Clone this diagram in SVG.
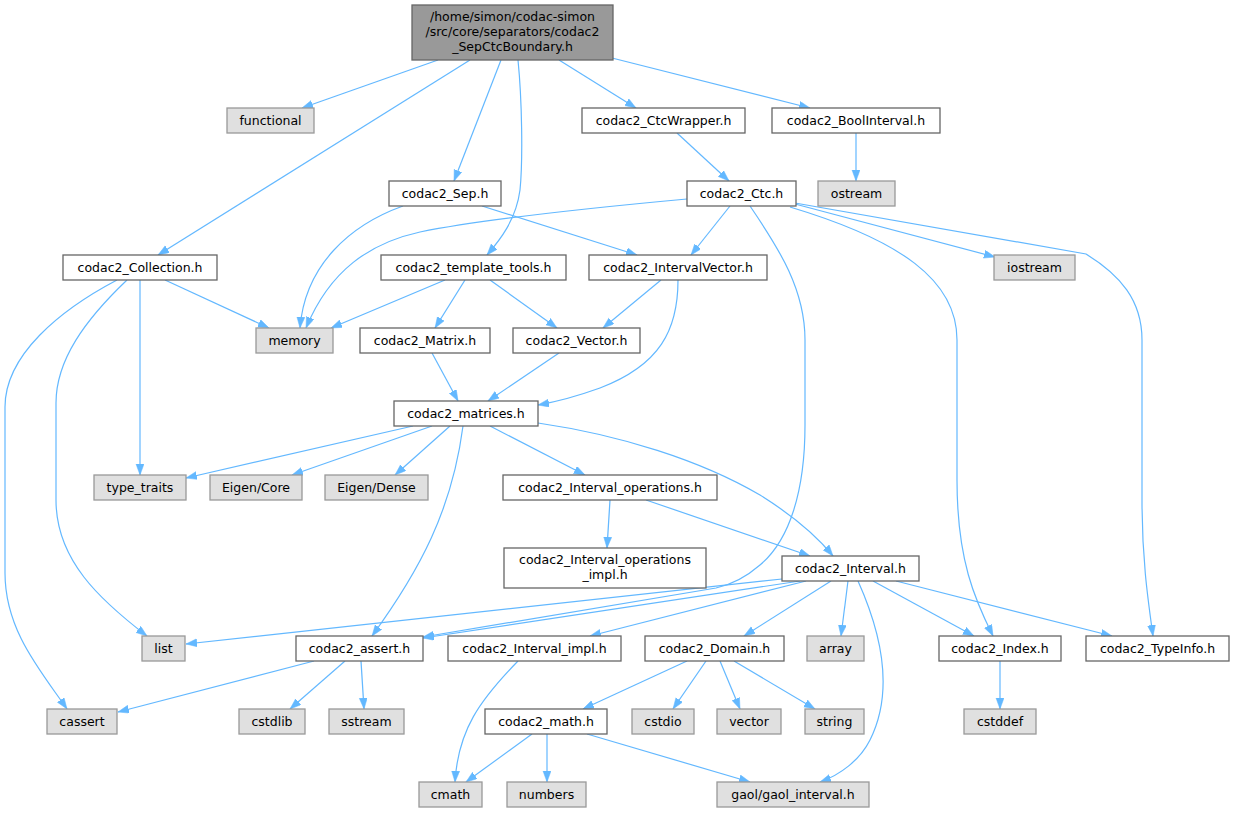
<svg xmlns="http://www.w3.org/2000/svg" width="1234" height="813" viewBox="0 0 1234 813">
<style>
.n rect{fill:#ffffff;stroke:#666666;stroke-width:1.3}
.g rect{fill:#e0e0e0;stroke:#999999;stroke-width:1.3}
.t rect{fill:#999999;stroke:#666666;stroke-width:1.3}
text{font-family:"DejaVu Sans","Liberation Sans",sans-serif;font-size:12.5px;fill:#000;text-anchor:middle}
#edges path{fill:none;stroke:#63b8ff;stroke-width:1.2;marker-end:url(#ah)}
</style>
<defs>
<marker id="ah" markerUnits="userSpaceOnUse" markerWidth="12" markerHeight="9" refX="11" refY="4" orient="auto">
<path d="M0,0 L11,4 L0,8 z" fill="#63b8ff" stroke="#63b8ff" stroke-width="0.5"/>
</marker>
</defs>
<rect width="1234" height="813" fill="#ffffff"/>
<g id="edges">
<path d="M438,60 L302,108"/>
<path d="M470,60 L158,255"/>
<path d="M501,60 L454,181"/>
<path d="M518,60 C522,100 523,160 520,190 C516,220 500,240 487,255"/>
<path d="M559,60 L636,108"/>
<path d="M612,58 L810,108"/>
<path d="M677,133 L729,181"/>
<path d="M856,133 L856,181"/>
<path d="M403,206 C350,225 305,265 300,328"/>
<path d="M482,206 L637,255"/>
<path d="M687,199 C600,207 480,220 420,232 C370,243 330,270 306,328"/>
<path d="M730,206 L691,255"/>
<path d="M750,206 C780,250 805,290 805,340 L805,425 C805,490 790,540 760,565 C745,578 730,585 716,588 L423,637"/>
<path d="M795,204 L995,257"/>
<path d="M790,207 C900,240 957,280 957,340 L957,480 C957,560 975,600 993,636"/>
<path d="M795,203 L1086,254 C1120,275 1142,300 1142,340 L1142,500 C1142,560 1148,600 1153,636"/>
<path d="M165,280 L269,328"/>
<path d="M140,280 L140,475"/>
<path d="M127,280 C85,320 56,360 56,403 L56,500 C56,560 100,600 147,636"/>
<path d="M117,280 C60,310 5,355 5,407 L5,573 C5,630 40,670 67,709"/>
<path d="M445,280 L331,328"/>
<path d="M465,280 L435,328"/>
<path d="M490,280 L557,328"/>
<path d="M661,280 L603,328"/>
<path d="M678,280 C678,330 660,365 600,388 C575,397 555,402 538,405"/>
<path d="M432,353 L458,401"/>
<path d="M559,353 L488,401"/>
<path d="M413,426 L186,478"/>
<path d="M432,426 L292,475"/>
<path d="M450,426 L395,475"/>
<path d="M463,426 C452,510 420,570 372,636"/>
<path d="M490,426 L585,475"/>
<path d="M538,423 C620,435 700,460 760,495 C800,520 820,540 833,556"/>
<path d="M610,500 L607,548"/>
<path d="M646,500 L810,556"/>
<path d="M782,579 L186,644"/>
<path d="M800,581 L423,638"/>
<path d="M806,581 L590,636"/>
<path d="M831,581 L744,636"/>
<path d="M848,581 L841,636"/>
<path d="M858,581 C880,630 895,690 870,740 C860,760 840,775 820,782"/>
<path d="M873,581 L974,636"/>
<path d="M896,581 L1112,636"/>
<path d="M518,661 C480,700 458,730 455,782"/>
<path d="M314,661 L118,712"/>
<path d="M345,661 L290,709"/>
<path d="M361,661 L364,709"/>
<path d="M687,661 L583,709"/>
<path d="M706,661 L673,709"/>
<path d="M720,661 L740,709"/>
<path d="M734,661 L815,709"/>
<path d="M1000,661 L1000,709"/>
<path d="M532,734 L466,782"/>
<path d="M547,734 L547,782"/>
<path d="M587,734 L750,782"/>
</g>
<g id="n_top" class="t"><rect x="412" y="5" width="201" height="55"/><text x="512.5" y="21">/home/simon/codac-simon</text><text x="512.5" y="36">/src/core/separators/codac2</text><text x="512.5" y="51">_SepCtcBoundary.h</text></g>
<g id="n_functional" class="g"><rect x="227" y="108" width="87" height="25"/><text x="270.5" y="125">functional</text></g>
<g id="n_ctcwrapper" class="n"><rect x="582" y="108" width="163" height="25"/><text x="663.5" y="125">codac2_CtcWrapper.h</text></g>
<g id="n_boolinterval" class="n"><rect x="772" y="108" width="168" height="25"/><text x="856" y="125">codac2_BoolInterval.h</text></g>
<g id="n_sep" class="n"><rect x="389" y="181" width="112" height="25"/><text x="445" y="198">codac2_Sep.h</text></g>
<g id="n_ctc" class="n"><rect x="687" y="181" width="109" height="25"/><text x="741.5" y="198">codac2_Ctc.h</text></g>
<g id="n_ostream" class="g"><rect x="818" y="181" width="77" height="25"/><text x="856.5" y="198">ostream</text></g>
<g id="n_collection" class="n"><rect x="63" y="255" width="154" height="25"/><text x="140" y="272">codac2_Collection.h</text></g>
<g id="n_template_tools" class="n"><rect x="381" y="255" width="185" height="25"/><text x="473.5" y="272">codac2_template_tools.h</text></g>
<g id="n_intervalvector" class="n"><rect x="589" y="255" width="178" height="25"/><text x="678" y="272">codac2_IntervalVector.h</text></g>
<g id="n_iostream" class="g"><rect x="994" y="255" width="81" height="25"/><text x="1034.5" y="272">iostream</text></g>
<g id="n_memory" class="g"><rect x="256" y="328" width="77" height="25"/><text x="294.5" y="345">memory</text></g>
<g id="n_matrix" class="n"><rect x="360" y="328" width="130" height="25"/><text x="425" y="345">codac2_Matrix.h</text></g>
<g id="n_vector_h" class="n"><rect x="513" y="328" width="127" height="25"/><text x="576.5" y="345">codac2_Vector.h</text></g>
<g id="n_matrices" class="n"><rect x="394" y="401" width="144" height="25"/><text x="466" y="418">codac2_matrices.h</text></g>
<g id="n_type_traits" class="g"><rect x="94" y="475" width="92" height="25"/><text x="140" y="492">type_traits</text></g>
<g id="n_eigen_core" class="g"><rect x="210" y="475" width="92" height="25"/><text x="256" y="492">Eigen/Core</text></g>
<g id="n_eigen_dense" class="g"><rect x="325" y="475" width="103" height="25"/><text x="376.5" y="492">Eigen/Dense</text></g>
<g id="n_interval_ops" class="n"><rect x="503" y="475" width="214" height="25"/><text x="610" y="492">codac2_Interval_operations.h</text></g>
<g id="n_interval_ops_impl" class="n"><rect x="504" y="548" width="202" height="40"/><text x="605" y="564">codac2_Interval_operations</text><text x="605" y="579">_impl.h</text></g>
<g id="n_interval" class="n"><rect x="782" y="556" width="137" height="25"/><text x="850.5" y="573">codac2_Interval.h</text></g>
<g id="n_list" class="g"><rect x="142" y="636" width="43" height="25"/><text x="163.5" y="653">list</text></g>
<g id="n_assert" class="n"><rect x="296" y="636" width="127" height="25"/><text x="359.5" y="653">codac2_assert.h</text></g>
<g id="n_interval_impl" class="n"><rect x="448" y="636" width="173" height="25"/><text x="534.5" y="653">codac2_Interval_impl.h</text></g>
<g id="n_domain" class="n"><rect x="645" y="636" width="139" height="25"/><text x="714.5" y="653">codac2_Domain.h</text></g>
<g id="n_array" class="g"><rect x="807" y="636" width="57" height="25"/><text x="835.5" y="653">array</text></g>
<g id="n_index" class="n"><rect x="939" y="636" width="122" height="25"/><text x="1000" y="653">codac2_Index.h</text></g>
<g id="n_typeinfo" class="n"><rect x="1086" y="636" width="143" height="25"/><text x="1157.5" y="653">codac2_TypeInfo.h</text></g>
<g id="n_cassert" class="g"><rect x="47" y="709" width="70" height="25"/><text x="82" y="726">cassert</text></g>
<g id="n_cstdlib" class="g"><rect x="239" y="709" width="66" height="25"/><text x="272" y="726">cstdlib</text></g>
<g id="n_sstream" class="g"><rect x="329" y="709" width="75" height="25"/><text x="366.5" y="726">sstream</text></g>
<g id="n_math" class="n"><rect x="485" y="709" width="122" height="25"/><text x="546" y="726">codac2_math.h</text></g>
<g id="n_cstdio" class="g"><rect x="632" y="709" width="62" height="25"/><text x="663" y="726">cstdio</text></g>
<g id="n_vector" class="g"><rect x="717" y="709" width="64" height="25"/><text x="749" y="726">vector</text></g>
<g id="n_string" class="g"><rect x="805" y="709" width="59" height="25"/><text x="834.5" y="726">string</text></g>
<g id="n_cstddef" class="g"><rect x="964" y="709" width="72" height="25"/><text x="1000" y="726">cstddef</text></g>
<g id="n_cmath" class="g"><rect x="419" y="782" width="63" height="25"/><text x="450.5" y="799">cmath</text></g>
<g id="n_numbers" class="g"><rect x="507" y="782" width="79" height="25"/><text x="546.5" y="799">numbers</text></g>
<g id="n_gaol" class="g"><rect x="717" y="782" width="152" height="25"/><text x="793" y="799">gaol/gaol_interval.h</text></g>
</svg>
